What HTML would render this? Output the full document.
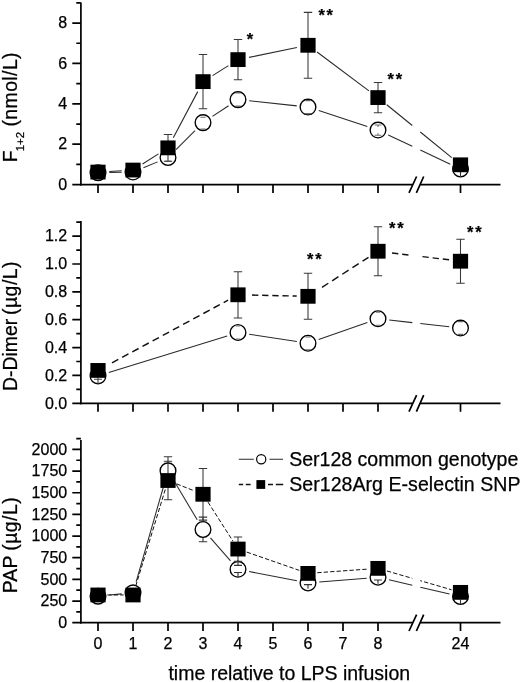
<!DOCTYPE html>
<html><head><meta charset="utf-8"><title>Figure</title>
<style>
html,body{margin:0;padding:0;background:#fff;}
svg{display:block;will-change:transform;}
text{font-family:"Liberation Sans",sans-serif;fill:#000;stroke:#000;stroke-width:0.25px;}
.t{font-size:16px;}
.a{font-size:19.4px;}
.l{font-size:19.55px;}
.s{font-size:16.5px;font-weight:bold;letter-spacing:1.8px;}
</style></head>
<body>
<svg width="520" height="682" viewBox="0 0 520 682">
<rect width="520" height="682" fill="#fff"/>
<g>
<path d="M80.9 2.40V185.45" stroke="#000" stroke-width="1.7" fill="none"/>
<path d="M80.05000000000001 184.6H412.8M420.2 184.6H500.5" stroke="#000" stroke-width="1.7" fill="none"/>
<path d="M409 192.90L416.6 176.50M416.4 192.90L423.7 176.50" stroke="#000" stroke-width="1.7" fill="none"/>
<path d="M80.9 184.60h-8.6M80.9 144.22h-8.6M80.9 103.84h-8.6M80.9 63.46h-8.6M80.9 23.08h-8.6M80.9 164.41h-4.6M80.9 124.03h-4.6M80.9 83.65h-4.6M80.9 43.27h-4.6M80.9 2.89h-4.6M98 184.6v8.4M133 184.6v8.4M168 184.6v8.4M203 184.6v8.4M238 184.6v8.4M273 184.6v8.4M308 184.6v8.4M343 184.6v8.4M378 184.6v8.4M460.5 184.6v8.4" stroke="#000" stroke-width="1.7" fill="none"/>
<text x="67.2" y="189.80" text-anchor="end" class="t">0</text>
<text x="67.2" y="149.42" text-anchor="end" class="t">2</text>
<text x="67.2" y="109.04" text-anchor="end" class="t">4</text>
<text x="67.2" y="68.66" text-anchor="end" class="t">6</text>
<text x="67.2" y="28.28" text-anchor="end" class="t">8</text>
<line x1="109.30" y1="172.49" x2="121.70" y2="172.28" stroke="#2a2a2a" stroke-width="1.05"/>
<line x1="143.44" y1="167.75" x2="157.56" y2="161.88" stroke="#2a2a2a" stroke-width="1.05"/>
<line x1="176.00" y1="149.56" x2="195.00" y2="130.60" stroke="#2a2a2a" stroke-width="1.05"/>
<line x1="212.44" y1="116.41" x2="228.56" y2="105.81" stroke="#2a2a2a" stroke-width="1.05"/>
<line x1="249.24" y1="100.80" x2="296.76" y2="105.87" stroke="#2a2a2a" stroke-width="1.05"/>
<line x1="318.73" y1="110.60" x2="367.27" y2="126.56" stroke="#2a2a2a" stroke-width="1.05"/>
<line x1="388.22" y1="134.91" x2="412.30" y2="146.29" stroke="#2a2a2a" stroke-width="1.05"/>
<line x1="420.30" y1="150.07" x2="450.28" y2="164.23" stroke="#2a2a2a" stroke-width="1.05"/>
<path d="M98.00 171.68V173.70M93.80 171.68h8.4M93.80 173.70h8.4" stroke="#383838" stroke-width="1.1" fill="none"/>
<path d="M133.00 170.47V173.70M128.80 170.47h8.4M128.80 173.70h8.4" stroke="#383838" stroke-width="1.1" fill="none"/>
<path d="M168.00 154.11V160.98M163.80 154.11h8.4M163.80 160.98h8.4" stroke="#383838" stroke-width="1.1" fill="none"/>
<path d="M203.00 116.56V128.67M198.80 116.56h8.4M198.80 128.67h8.4" stroke="#383838" stroke-width="1.1" fill="none"/>
<path d="M238.00 92.74V106.46M233.80 92.74h8.4M233.80 106.46h8.4" stroke="#383838" stroke-width="1.1" fill="none"/>
<path d="M308.00 100.00V114.14M303.80 100.00h8.4M303.80 114.14h8.4" stroke="#383838" stroke-width="1.1" fill="none"/>
<path d="M378.00 125.04V135.13M373.80 125.04h8.4M373.80 135.13h8.4" stroke="#383838" stroke-width="1.1" fill="none"/>
<path d="M460.50 165.02V173.09M456.30 165.02h8.4M456.30 173.09h8.4" stroke="#383838" stroke-width="1.1" fill="none"/>
<circle cx="98.00" cy="172.69" r="7.85" fill="#fff" stroke="#000" stroke-width="1.35"/>
<circle cx="133.00" cy="172.08" r="7.85" fill="#fff" stroke="#000" stroke-width="1.35"/>
<circle cx="168.00" cy="157.55" r="7.85" fill="#fff" stroke="#000" stroke-width="1.35"/>
<circle cx="203.00" cy="122.62" r="7.85" fill="#fff" stroke="#000" stroke-width="1.35"/>
<circle cx="238.00" cy="99.60" r="7.85" fill="#fff" stroke="#000" stroke-width="1.35"/>
<circle cx="308.00" cy="107.07" r="7.85" fill="#fff" stroke="#000" stroke-width="1.35"/>
<circle cx="378.00" cy="130.09" r="7.85" fill="#fff" stroke="#000" stroke-width="1.35"/>
<circle cx="460.50" cy="169.05" r="7.85" fill="#fff" stroke="#000" stroke-width="1.35"/>
<path d="M164.80 161.20H171.20" stroke="#777" stroke-width="1.1" fill="none"/>
<path d="M200.40 117.20H205.60M200.40 129.00H205.60" stroke="#6a6a6a" stroke-width="1.1" fill="none"/>
<path d="M235.40 93.00H240.60M235.40 106.10H240.60" stroke="#6a6a6a" stroke-width="1.1" fill="none"/>
<path d="M305.40 100.60H310.60M305.00 113.60H311.00" stroke="#6a6a6a" stroke-width="1.1" fill="none"/>
<path d="M374.60 125.00H381.40M374.60 135.20H381.40M378.00 125.00V127.00M378.00 133.20V135.20" stroke="#6a6a6a" stroke-width="1.1" fill="none"/>
<path d="M460.50 172.00V177.00" stroke="#333" stroke-width="1.1" fill="none"/>
<path d="M98.00 169.66V174.50M93.80 169.66h8.4M93.80 174.50h8.4" stroke="#383838" stroke-width="1.05" fill="none"/>
<path d="M133.00 167.64V172.49M128.80 167.64h8.4M128.80 172.49h8.4" stroke="#383838" stroke-width="1.05" fill="none"/>
<path d="M168.00 134.53V161.18M163.80 134.53h8.4M163.80 161.18h8.4" stroke="#383838" stroke-width="1.05" fill="none"/>
<path d="M203.00 54.58V108.69M198.80 54.58h8.4M198.80 108.69h8.4" stroke="#383838" stroke-width="1.05" fill="none"/>
<path d="M238.00 39.43V79.81M233.80 39.43h8.4M233.80 79.81h8.4" stroke="#383838" stroke-width="1.05" fill="none"/>
<path d="M308.00 12.38V78.20M303.80 12.38h8.4M303.80 78.20h8.4" stroke="#383838" stroke-width="1.05" fill="none"/>
<path d="M378.00 82.44V112.72M373.80 82.44h8.4M373.80 112.72h8.4" stroke="#383838" stroke-width="1.05" fill="none"/>
<path d="M460.50 158.76V170.87M456.30 158.76h8.4M456.30 170.87h8.4" stroke="#383838" stroke-width="1.05" fill="none"/>
<line x1="109.28" y1="171.43" x2="121.72" y2="170.71" stroke="#2a2a2a" stroke-width="1.1"/>
<line x1="142.54" y1="164.01" x2="158.46" y2="153.91" stroke="#2a2a2a" stroke-width="1.1"/>
<line x1="173.28" y1="137.86" x2="197.72" y2="91.62" stroke="#2a2a2a" stroke-width="1.1"/>
<line x1="212.57" y1="75.62" x2="228.43" y2="65.64" stroke="#2a2a2a" stroke-width="1.1"/>
<line x1="249.07" y1="57.36" x2="296.93" y2="47.56" stroke="#2a2a2a" stroke-width="1.1"/>
<line x1="317.05" y1="52.05" x2="368.95" y2="90.82" stroke="#2a2a2a" stroke-width="1.1"/>
<line x1="386.76" y1="104.72" x2="412.30" y2="125.53" stroke="#2a2a2a" stroke-width="1.1"/>
<line x1="420.30" y1="132.05" x2="451.74" y2="157.68" stroke="#2a2a2a" stroke-width="1.1"/>
<rect x="90.40" y="164.68" width="15.2" height="14.8" fill="#000"/>
<rect x="125.40" y="162.66" width="15.2" height="14.8" fill="#000"/>
<rect x="160.40" y="140.45" width="15.2" height="14.8" fill="#000"/>
<rect x="195.40" y="74.23" width="15.2" height="14.8" fill="#000"/>
<rect x="230.40" y="52.22" width="15.2" height="14.8" fill="#000"/>
<rect x="300.40" y="37.89" width="15.2" height="14.8" fill="#000"/>
<rect x="370.40" y="90.18" width="15.2" height="14.8" fill="#000"/>
<rect x="452.90" y="157.41" width="15.2" height="14.8" fill="#000"/>
</g>
<g>
<path d="M80.9 220.90V404.15" stroke="#000" stroke-width="1.7" fill="none"/>
<path d="M80.05000000000001 403.3H412.8M420.2 403.3H500.5" stroke="#000" stroke-width="1.7" fill="none"/>
<path d="M409 411.60L416.6 395.20M416.4 411.60L423.7 395.20" stroke="#000" stroke-width="1.7" fill="none"/>
<path d="M80.9 403.30h-8.6M80.9 375.44h-8.6M80.9 347.58h-8.6M80.9 319.72h-8.6M80.9 291.86h-8.6M80.9 264.00h-8.6M80.9 236.14h-8.6M80.9 389.37h-4.6M80.9 361.51h-4.6M80.9 333.65h-4.6M80.9 305.79h-4.6M80.9 277.93h-4.6M80.9 250.07h-4.6M80.9 222.21h-4.6M98 403.3v8.4M133 403.3v8.4M168 403.3v8.4M203 403.3v8.4M238 403.3v8.4M273 403.3v8.4M308 403.3v8.4M343 403.3v8.4M378 403.3v8.4M460.5 403.3v8.4" stroke="#000" stroke-width="1.7" fill="none"/>
<text x="67.2" y="408.50" text-anchor="end" class="t">0.0</text>
<text x="67.2" y="380.64" text-anchor="end" class="t">0.2</text>
<text x="67.2" y="352.78" text-anchor="end" class="t">0.4</text>
<text x="67.2" y="324.92" text-anchor="end" class="t">0.6</text>
<text x="67.2" y="297.06" text-anchor="end" class="t">0.8</text>
<text x="67.2" y="269.20" text-anchor="end" class="t">1.0</text>
<text x="67.2" y="241.34" text-anchor="end" class="t">1.2</text>
<line x1="108.79" y1="372.52" x2="227.21" y2="335.88" stroke="#2a2a2a" stroke-width="1.05"/>
<line x1="249.17" y1="334.25" x2="296.83" y2="341.55" stroke="#2a2a2a" stroke-width="1.05"/>
<line x1="318.66" y1="339.53" x2="367.34" y2="322.48" stroke="#2a2a2a" stroke-width="1.05"/>
<line x1="389.23" y1="320.02" x2="412.30" y2="322.63" stroke="#2a2a2a" stroke-width="1.05"/>
<line x1="420.30" y1="323.53" x2="449.27" y2="326.81" stroke="#2a2a2a" stroke-width="1.05"/>
<path d="M98.00 371.68V380.04M93.80 371.68h8.4M93.80 380.04h8.4" stroke="#383838" stroke-width="1.1" fill="none"/>
<path d="M238.00 326.96V338.11M233.80 326.96h8.4M233.80 338.11h8.4" stroke="#383838" stroke-width="1.1" fill="none"/>
<path d="M308.00 336.71V349.81M303.80 336.71h8.4M303.80 349.81h8.4" stroke="#383838" stroke-width="1.1" fill="none"/>
<path d="M378.00 312.48V325.01M373.80 312.48h8.4M373.80 325.01h8.4" stroke="#383838" stroke-width="1.1" fill="none"/>
<path d="M460.50 321.53V334.63M456.30 321.53h8.4M456.30 334.63h8.4" stroke="#383838" stroke-width="1.1" fill="none"/>
<circle cx="98.00" cy="375.86" r="7.85" fill="#fff" stroke="#000" stroke-width="1.35"/>
<circle cx="238.00" cy="332.54" r="7.85" fill="#fff" stroke="#000" stroke-width="1.35"/>
<circle cx="308.00" cy="343.26" r="7.85" fill="#fff" stroke="#000" stroke-width="1.35"/>
<circle cx="378.00" cy="318.74" r="7.85" fill="#fff" stroke="#000" stroke-width="1.35"/>
<circle cx="460.50" cy="328.08" r="7.85" fill="#fff" stroke="#000" stroke-width="1.35"/>
<path d="M94.00 379.30H102.00M98.00 377.50V384.00" stroke="#444" stroke-width="1.1" fill="none"/>
<path d="M305.40 337.00H310.60M305.40 349.80H310.60" stroke="#6a6a6a" stroke-width="1.1" fill="none"/>
<path d="M457.90 321.60H463.10M457.90 334.40H463.10" stroke="#6a6a6a" stroke-width="1.1" fill="none"/>
<path d="M235.80 326.00H240.20M235.80 339.00H240.20" stroke="#777" stroke-width="1.1" fill="none"/>
<path d="M375.80 312.30H380.20M375.80 325.20H380.20" stroke="#777" stroke-width="1.1" fill="none"/>
<path d="M98.00 364.85V376.00M93.80 364.85h8.4M93.80 376.00h8.4" stroke="#383838" stroke-width="1.05" fill="none"/>
<path d="M238.00 271.66V317.91M233.80 271.66h8.4M233.80 317.91h8.4" stroke="#383838" stroke-width="1.05" fill="none"/>
<path d="M308.00 273.33V319.30M303.80 273.33h8.4M303.80 319.30h8.4" stroke="#383838" stroke-width="1.05" fill="none"/>
<path d="M378.00 226.74V275.77M373.80 226.74h8.4M373.80 275.77h8.4" stroke="#383838" stroke-width="1.05" fill="none"/>
<path d="M460.50 239.20V283.22M456.30 239.20h8.4M456.30 283.22h8.4" stroke="#383838" stroke-width="1.05" fill="none"/>
<line x1="108.19" y1="364.92" x2="228.06" y2="300.16" stroke="#111" stroke-width="1.45" stroke-dasharray="7.16 4.38" stroke-dashoffset="7.21"/>
<line x1="249.30" y1="295.03" x2="296.70" y2="296.07" stroke="#111" stroke-width="1.45" stroke-dasharray="6.30 3.85" stroke-dashoffset="7.45"/>
<line x1="318.19" y1="289.76" x2="368.50" y2="257.37" stroke="#111" stroke-width="1.45" stroke-dasharray="7.49 4.58" stroke-dashoffset="7.54"/>
<line x1="389.22" y1="252.61" x2="412.30" y2="255.39" stroke="#111" stroke-width="1.45" stroke-dasharray="6.35 3.88" stroke-dashoffset="7.42"/>
<line x1="420.30" y1="256.36" x2="449.28" y2="259.86" stroke="#111" stroke-width="1.45" stroke-dasharray="6.35 3.88" stroke-dashoffset="8.06"/>
<rect x="90.40" y="363.03" width="15.2" height="14.8" fill="#000"/>
<rect x="230.40" y="287.39" width="15.2" height="14.8" fill="#000"/>
<rect x="300.40" y="288.92" width="15.2" height="14.8" fill="#000"/>
<rect x="370.40" y="243.85" width="15.2" height="14.8" fill="#000"/>
<rect x="452.90" y="253.81" width="15.2" height="14.8" fill="#000"/>
</g>
<g>
<path d="M80.9 440.00V623.55" stroke="#000" stroke-width="1.7" fill="none"/>
<path d="M80.05000000000001 622.7H412.8M420.2 622.7H500.5" stroke="#000" stroke-width="1.7" fill="none"/>
<path d="M409 631.00L416.6 614.60M416.4 631.00L423.7 614.60" stroke="#000" stroke-width="1.7" fill="none"/>
<path d="M80.9 622.70h-8.6M80.9 601.04h-8.6M80.9 579.38h-8.6M80.9 557.71h-8.6M80.9 536.05h-8.6M80.9 514.39h-8.6M80.9 492.73h-8.6M80.9 471.06h-8.6M80.9 449.40h-8.6M80.9 611.87h-4.6M80.9 590.21h-4.6M80.9 568.54h-4.6M80.9 546.88h-4.6M80.9 525.22h-4.6M80.9 503.56h-4.6M80.9 481.89h-4.6M80.9 460.23h-4.6M80.9 438.57h-4.6M98 622.7v8.4M133 622.7v8.4M168 622.7v8.4M203 622.7v8.4M238 622.7v8.4M273 622.7v8.4M308 622.7v8.4M343 622.7v8.4M378 622.7v8.4M460.5 622.7v8.4" stroke="#000" stroke-width="1.7" fill="none"/>
<text x="67.2" y="627.90" text-anchor="end" class="t">0</text>
<text x="67.2" y="606.24" text-anchor="end" class="t">250</text>
<text x="67.2" y="584.58" text-anchor="end" class="t">500</text>
<text x="67.2" y="562.91" text-anchor="end" class="t">750</text>
<text x="67.2" y="541.25" text-anchor="end" class="t">1000</text>
<text x="67.2" y="519.59" text-anchor="end" class="t">1250</text>
<text x="67.2" y="497.93" text-anchor="end" class="t">1500</text>
<text x="67.2" y="476.26" text-anchor="end" class="t">1750</text>
<text x="67.2" y="454.60" text-anchor="end" class="t">2000</text>
<line x1="109.25" y1="595.10" x2="121.75" y2="593.89" stroke="#2a2a2a" stroke-width="1.05"/>
<line x1="136.12" y1="581.94" x2="164.88" y2="481.75" stroke="#2a2a2a" stroke-width="1.05"/>
<line x1="173.80" y1="480.59" x2="197.20" y2="519.76" stroke="#2a2a2a" stroke-width="1.05"/>
<line x1="210.46" y1="537.96" x2="230.54" y2="560.83" stroke="#2a2a2a" stroke-width="1.05"/>
<line x1="249.09" y1="571.49" x2="296.91" y2="580.85" stroke="#2a2a2a" stroke-width="1.05"/>
<line x1="319.26" y1="582.09" x2="366.74" y2="578.22" stroke="#2a2a2a" stroke-width="1.05"/>
<line x1="389.00" y1="579.86" x2="412.30" y2="585.29" stroke="#2a2a2a" stroke-width="1.05"/>
<line x1="420.30" y1="587.16" x2="449.50" y2="593.97" stroke="#2a2a2a" stroke-width="1.05"/>
<path d="M98.00 593.59V598.78M93.80 593.59h8.4M93.80 598.78h8.4" stroke="#383838" stroke-width="1.1" fill="none"/>
<path d="M133.00 590.21V595.41M128.80 590.21h8.4M128.80 595.41h8.4" stroke="#383838" stroke-width="1.1" fill="none"/>
<path d="M168.00 456.68V485.10M163.80 456.68h8.4M163.80 485.10h8.4" stroke="#383838" stroke-width="1.1" fill="none"/>
<path d="M203.00 517.16V541.77M198.80 517.16h8.4M198.80 541.77h8.4" stroke="#383838" stroke-width="1.1" fill="none"/>
<path d="M238.00 564.99V573.66M233.80 564.99h8.4M233.80 573.66h8.4" stroke="#383838" stroke-width="1.1" fill="none"/>
<path d="M308.00 578.68V587.35M303.80 578.68h8.4M303.80 587.35h8.4" stroke="#383838" stroke-width="1.1" fill="none"/>
<path d="M378.00 572.96V581.63M373.80 572.96h8.4M373.80 581.63h8.4" stroke="#383838" stroke-width="1.1" fill="none"/>
<path d="M460.50 592.20V600.86M456.30 592.20h8.4M456.30 600.86h8.4" stroke="#383838" stroke-width="1.1" fill="none"/>
<circle cx="98.00" cy="596.19" r="7.85" fill="#fff" stroke="#000" stroke-width="1.35"/>
<circle cx="133.00" cy="592.81" r="7.85" fill="#fff" stroke="#000" stroke-width="1.35"/>
<circle cx="168.00" cy="470.89" r="7.85" fill="#fff" stroke="#000" stroke-width="1.35"/>
<circle cx="203.00" cy="529.46" r="7.85" fill="#fff" stroke="#000" stroke-width="1.35"/>
<circle cx="238.00" cy="569.32" r="7.85" fill="#fff" stroke="#000" stroke-width="1.35"/>
<circle cx="308.00" cy="583.01" r="7.85" fill="#fff" stroke="#000" stroke-width="1.35"/>
<circle cx="378.00" cy="577.30" r="7.85" fill="#fff" stroke="#000" stroke-width="1.35"/>
<circle cx="460.50" cy="596.53" r="7.85" fill="#fff" stroke="#000" stroke-width="1.35"/>
<path d="M234.00 565.40H242.00M234.00 572.50H242.00M238.00 560.00V565.40M238.00 572.50V577.00" stroke="#333" stroke-width="1.1" fill="none"/>
<path d="M304.00 584.60H312.00M308.00 584.60V588.80" stroke="#333" stroke-width="1.1" fill="none"/>
<path d="M374.00 580.00H382.00M378.00 580.00V583.80" stroke="#333" stroke-width="1.1" fill="none"/>
<path d="M460.50 599.50V604.50" stroke="#333" stroke-width="1.1" fill="none"/>
<path d="M98.00 592.37V597.57M93.80 592.37h8.4M93.80 597.57h8.4" stroke="#383838" stroke-width="1.05" fill="none"/>
<path d="M133.00 592.37V597.57M128.80 592.37h8.4M128.80 597.57h8.4" stroke="#383838" stroke-width="1.05" fill="none"/>
<path d="M168.00 461.18V499.83M163.80 461.18h8.4M163.80 499.83h8.4" stroke="#383838" stroke-width="1.05" fill="none"/>
<path d="M203.00 468.46V520.11M198.80 468.46h8.4M198.80 520.11h8.4" stroke="#383838" stroke-width="1.05" fill="none"/>
<path d="M238.00 536.92V561.18M233.80 536.92h8.4M233.80 561.18h8.4" stroke="#383838" stroke-width="1.05" fill="none"/>
<path d="M308.00 568.20V578.60M303.80 568.20h8.4M303.80 578.60h8.4" stroke="#383838" stroke-width="1.05" fill="none"/>
<path d="M378.00 563.17V573.57M373.80 563.17h8.4M373.80 573.57h8.4" stroke="#383838" stroke-width="1.05" fill="none"/>
<path d="M460.50 587.17V597.57M456.30 587.17h8.4M456.30 597.57h8.4" stroke="#383838" stroke-width="1.05" fill="none"/>
<line x1="107.30" y1="594.97" x2="123.70" y2="594.97" stroke="#111" stroke-width="1.0" stroke-dasharray="4.3 2.15" stroke-dashoffset="0.00"/>
<line x1="135.72" y1="586.08" x2="165.28" y2="489.40" stroke="#111" stroke-width="1.0" stroke-dasharray="4.3 2.15" stroke-dashoffset="0.00"/>
<line x1="176.65" y1="483.91" x2="194.35" y2="490.88" stroke="#111" stroke-width="1.0" stroke-dasharray="4.3 2.15" stroke-dashoffset="0.00"/>
<line x1="208.01" y1="502.12" x2="232.99" y2="541.21" stroke="#111" stroke-width="1.0" stroke-dasharray="4.3 2.15" stroke-dashoffset="0.00"/>
<line x1="246.78" y1="552.10" x2="299.22" y2="570.34" stroke="#111" stroke-width="1.0" stroke-dasharray="4.3 2.15" stroke-dashoffset="0.00"/>
<line x1="317.28" y1="572.73" x2="368.72" y2="569.04" stroke="#111" stroke-width="1.0" stroke-dasharray="4.3 2.15" stroke-dashoffset="0.00"/>
<line x1="386.93" y1="570.97" x2="412.30" y2="578.35" stroke="#111" stroke-width="1.0" stroke-dasharray="4.3 2.15" stroke-dashoffset="0.00"/>
<line x1="420.30" y1="580.68" x2="451.57" y2="589.77" stroke="#111" stroke-width="1.0" stroke-dasharray="4.3 2.15" stroke-dashoffset="2.50"/>
<rect x="90.40" y="587.57" width="15.2" height="14.8" fill="#000"/>
<rect x="125.40" y="587.57" width="15.2" height="14.8" fill="#000"/>
<rect x="160.40" y="473.11" width="15.2" height="14.8" fill="#000"/>
<rect x="195.40" y="486.88" width="15.2" height="14.8" fill="#000"/>
<rect x="230.40" y="541.65" width="15.2" height="14.8" fill="#000"/>
<rect x="300.40" y="566.00" width="15.2" height="14.8" fill="#000"/>
<rect x="370.40" y="560.97" width="15.2" height="14.8" fill="#000"/>
<rect x="452.90" y="584.97" width="15.2" height="14.8" fill="#000"/>
</g>
<text x="98" y="648.9" text-anchor="middle" class="t">0</text>
<text x="133" y="648.9" text-anchor="middle" class="t">1</text>
<text x="168" y="648.9" text-anchor="middle" class="t">2</text>
<text x="203" y="648.9" text-anchor="middle" class="t">3</text>
<text x="238" y="648.9" text-anchor="middle" class="t">4</text>
<text x="273" y="648.9" text-anchor="middle" class="t">5</text>
<text x="308" y="648.9" text-anchor="middle" class="t">6</text>
<text x="343" y="648.9" text-anchor="middle" class="t">7</text>
<text x="378" y="648.9" text-anchor="middle" class="t">8</text>
<text x="460.5" y="648.9" text-anchor="middle" class="t">24</text>
<text x="289.3" y="679.6" text-anchor="middle" class="a" style="font-size:19.5px">time relative to LPS infusion</text>
<text transform="translate(16.8,162.3) rotate(-90)" class="a">F<tspan dy="7.6" dx="-0.8" font-size="11.4">1+2</tspan><tspan dy="-7.6" dx="-0.4" letter-spacing="0.42"> (nmol/L)</tspan></text>
<text transform="translate(17.2,390.9) rotate(-90)" class="a"><tspan>D-Dimer</tspan><tspan x="75.9" letter-spacing="0.5">(µg/L)</tspan></text>
<text transform="translate(17.2,593.3) rotate(-90)" class="a"><tspan letter-spacing="0.15">PAP</tspan><tspan x="42.5" letter-spacing="0.5">(µg/L)</tspan></text>
<text x="246.7" y="44.9" class="s">*</text>
<text x="318.4" y="20.8" class="s">**</text>
<text x="387.6" y="84.8" class="s">**</text>
<text x="307.1" y="264.5" class="s">**</text>
<text x="389.1" y="234.3" class="s">**</text>
<text x="467.1" y="238.3" class="s">**</text>
<path d="M238.8 459.3H253.8M269.5 459.3H283" stroke="#2a2a2a" stroke-width="1.05"/>
<circle cx="261.2" cy="459.3" r="4.6" fill="#fff" stroke="#000" stroke-width="1.2"/>
<path d="M238.8 484.5h4.4m2.6 0h4.8M268 484.5h5m2.8 0h7.4" stroke="#111" stroke-width="1.3"/>
<rect x="256.4" y="480.1" width="8.8" height="8.8" fill="#000"/>
<text x="289.2" y="465.8" class="l">Ser128 common genotype</text>
<text x="289.2" y="490.8" class="l" letter-spacing="0.05">Ser128Arg E-selectin SNP</text>
</svg>
</body></html>
